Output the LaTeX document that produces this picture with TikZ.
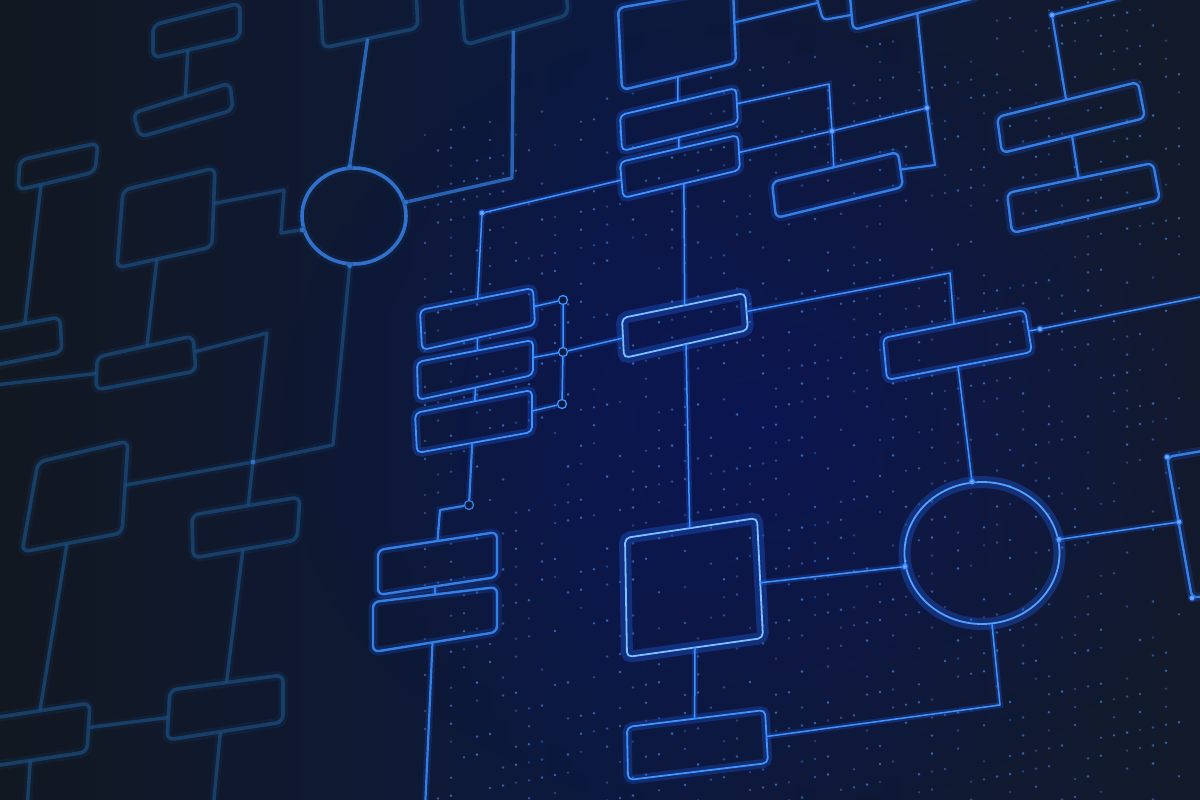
\documentclass[tikz,border=0pt]{standalone}
\usetikzlibrary{calc,shapes.geometric,fadings}
\definecolor{bgL}{HTML}{121821}
\definecolor{bgM}{HTML}{0C193F}
\definecolor{bgR}{HTML}{131A2B}
\definecolor{neon}{HTML}{4094FF}
\definecolor{neonglow}{HTML}{1F5FE6}
\definecolor{neonhot}{HTML}{7CC0FF}
\definecolor{midc}{HTML}{3580E6}
\definecolor{dimc}{HTML}{1B4E7E}
\definecolor{dimglow}{HTML}{163E68}
\definecolor{dotc}{HTML}{4A8FF0}
\tikzfading[name=softglow, inner color=transparent!55, outer color=transparent!100]
\tikzset{
  bright/.style={draw=neon, line width=1.8pt, rounded corners=5pt, line join=round,
    preaction={draw=neonglow, line width=9pt, draw opacity=0.3}},
  hot/.style={draw=neonhot, line width=1.8pt, rounded corners=5pt, line join=round,
    preaction={draw=neonglow, line width=12pt, draw opacity=0.35}},
  medium/.style={draw=midc, line width=2.4pt, rounded corners=6pt, line join=round,
    preaction={draw=neonglow, line width=9pt, draw opacity=0.22}},
  dim/.style={draw=dimc, line width=3.6pt, rounded corners=7pt, line join=round, draw opacity=0.7,
    preaction={draw=dimglow, line width=10pt, draw opacity=0.2}},
  brightln/.style={draw=neon, line width=1.5pt, line join=round,
    preaction={draw=neonglow, line width=6pt, draw opacity=0.28}},
  mediumln/.style={draw=midc, line width=2.2pt, line join=round,
    preaction={draw=neonglow, line width=7pt, draw opacity=0.2}},
  dimln/.style={draw=dimc, line width=3.4pt, line join=round, draw opacity=0.7,
    preaction={draw=dimglow, line width=9pt, draw opacity=0.18}},
  jdot/.style={fill=neonhot, draw=neonglow, draw opacity=0.4, line width=3pt},
  ddot/.style={fill=dimc!80!white, draw=dimglow, draw opacity=0.3, line width=3pt},
  ring/.style={circle, draw=neon, fill=bgM, line width=1.3pt, minimum size=9pt, inner sep=0pt}
}
\newcommand\qbox[6][bright]{%
  \coordinate (#2-tl) at (#3); \coordinate (#2-tr) at (#4);
  \coordinate (#2-br) at (#5); \coordinate (#2-bl) at (#6);
  \draw[#1] (#2-tl) -- (#2-tr) -- (#2-br) -- (#2-bl) -- cycle;}
\begin{document}
\begin{tikzpicture}[x=1pt,y=-1pt]
\useasboundingbox (0,0) rectangle (1200,800);
\clip (0,0) rectangle (1200,800);
% background
\shade[left color=bgL, right color=bgR, middle color=bgM] (0,0) rectangle (1200,800);
\fill[bgM!75!blue, path fading=softglow] (760,420) ellipse [x radius=480, y radius=400];
% dot matrix
\foreach \r in {0,...,45}{
  \foreach \c in {0,...,58}{
    \pgfmathtruncatemacro\k{mod(mod(\c*\c,97)*7+mod(\r*\r,89)*3+mod(\c*\r,83)*5+\r*11+\c,9)}
    \ifnum\k<4
      \pgfmathsetmacro\xx{425+13*\c}
      \pgfmathsetmacro\yy{135+18*\r-2.6*\c}
      \pgfmathsetmacro\op{0.35+0.1*mod(\c+\r,4)}
      \fill[dotc, opacity=\op] (\xx,\yy) circle (1.4);
    \fi
  }}

% ================= left, dim flowchart =================
\qbox[dim]{D1}{320,-10}{415,-28}{418,28}{323,48}
\qbox[dim]{D2}{461,-5}{565,-25}{568,15}{465,45}
\qbox[dim]{D3}{123,190}{215,168}{212,247}{117,268}
\qbox[dim]{D4}{-20,332}{60,317}{62,352}{-20,368}
\qbox[dim]{D5}{97,357}{193,336}{196,371}{96,390}
\qbox[dim]{D6}{38,462}{128,441}{122,533}{22,552}
\qbox[dim]{D7}{192,515}{300,497}{297,540}{193,558}
\qbox[dim]{D8}{153,25}{240,3}{240,38}{153,58}
\qbox[dim]{D9}{133,113}{230,83}{233,110}{140,137}
\qbox[dim]{D11}{20,160}{98,143}{95,172}{18,190}
\qbox[dim]{D12}{-20,720}{90,703}{87,752}{-20,768}
\qbox[dim]{D13}{170,690}{283,675}{283,722}{167,740}
\node[ellipse, dim, draw=midc, draw opacity=0.85, minimum width=104pt, minimum height=96pt, inner sep=0pt] (C1) at (354,216) {};

\coordinate (K4) at (512,178); \coordinate (K5) at (281,233); \coordinate (K6) at (284,190);
\coordinate (K7) at (333,445); \coordinate (J8) at (253,462); \coordinate (K8) at (267,333);
\coordinate (E3) at (425,810); \coordinate (E4) at (213,810); \coordinate (E5) at (27,810);
\coordinate (E6) at (-5,385);

\draw[dimln, draw=midc] (C1.95) -- ($(D1-bl)!0.47!(D1-br)$);
\draw[dimln, draw=midc] (C1.15) -- (K4) -- ($(D2-bl)!0.47!(D2-br)$);
\draw[dimln] (C1.195) -- (K5) -- (K6) -- ($(D3-tr)!0.45!(D3-br)$);
\draw[dimln] (C1.265) -- (K7) -- (J8) -- ($(D6-tr)!0.48!(D6-br)$);
\draw[dimln] ($(D3-bl)!0.42!(D3-br)$) -- ($(D5-tl)!0.52!(D5-tr)$);
\draw[dimln] ($(D5-tr)!0.45!(D5-br)$) -- (K8) -- (J8) -- ($(D7-tl)!0.52!(D7-tr)$);
\draw[dimln] ($(D6-bl)!0.45!(D6-br)$) -- ($(D12-tl)!0.545!(D12-tr)$);
\draw[dimln] ($(D7-bl)!0.48!(D7-br)$) -- ($(D13-tl)!0.5!(D13-tr)$);
\draw[dimln] ($(D12-tr)!0.5!(D12-br)$) -- ($(D13-tl)!0.55!(D13-bl)$);
\draw[dimln] ($(D13-bl)!0.46!(D13-br)$) -- (E4);
\draw[dimln] ($(D12-bl)!0.47!(D12-br)$) -- (E5);
\draw[dimln] ($(D11-bl)!0.3!(D11-br)$) -- ($(D4-tl)!0.56!(D4-tr)$);
\draw[dimln] (E6) -- ($(D5-tl)!0.5!(D5-bl)$);
\draw[dimln] ($(D8-bl)!0.4!(D8-br)$) -- ($(D9-tl)!0.54!(D9-tr)$);
\foreach \p in {C1.95,C1.15,C1.195,C1.265,J8} \fill[ddot, fill=midc] (\p) circle (2.5);

% ================= centre, bright flowchart =================
% top column
\qbox[medium]{T1}{618,8}{733,-12}{736,63}{622,90}
\qbox{T2}{620,115}{736,88}{738,123}{622,151}
\qbox{T3}{620,162}{738,135}{740,170}{623,198}
\qbox[medium]{TR1}{848,-25}{975,-55}{979,-3}{853,30}
\qbox[medium]{R3}{772,182}{898,152}{903,187}{776,218}
\qbox[medium]{R4}{997,117}{1138,82}{1145,118}{1002,153}
\qbox[medium]{R5}{1007,193}{1153,163}{1160,200}{1012,233}
% middle
\qbox{L1}{420,310}{533,288}{535,325}{422,350}
\qbox{L2}{417,362}{533,340}{533,375}{418,400}
\qbox{L3}{415,413}{532,390}{532,432}{417,453}
\qbox[hot]{M1}{622,318}{745,293}{748,330}{624,358}
\qbox{R6}{883,338}{1025,310}{1032,352}{887,380}
\qbox[hot]{C}{625,538}{757,518}{763,638}{627,657}
\qbox{B2}{627,727}{765,710}{768,763}{628,780}
\qbox[medium]{B1a}{378,550}{497,532}{497,577}{378,595}
\qbox[medium]{B1b}{373,602}{497,587}{497,632}{373,652}
\qbox[medium]{RB}{1167,457}{1220,448}{1230,592}{1192,598}
\node[ellipse, hot, draw=neon!70!neonhot, minimum width=155pt, minimum height=142pt, inner sep=0pt] (C2) at (982,553) {};

\node[ring] (O1) at (563,300) {};
\node[ring] (O2) at (563,352) {};
\node[ring] (O3) at (562,404) {};
\node[ring, draw=midc] (O4) at (469,505) {};

\coordinate (J1) at (482,213); \coordinate (J2) at (927,108); \coordinate (J3) at (935,165);
\coordinate (J4) at (832,131); \coordinate (K1) at (829,84);  \coordinate (X1a) at (817,3);
\coordinate (J9) at (1052,15); \coordinate (E1) at (1120,-2);
\coordinate (K2) at (440,510); \coordinate (J5) at (950,273); \coordinate (J6) at (1040,329);
\coordinate (E2) at (1210,295); \coordinate (J7) at (1179,522); \coordinate (K3) at (1000,705);

% top connectors
\draw[brightln] ($(T1-bl)!0.49!(T1-br)$) -- ($(T2-tl)!0.5!(T2-tr)$);
\draw[brightln] ($(T2-bl)!0.49!(T2-br)$) -- ($(T3-tl)!0.5!(T3-tr)$);
\draw[brightln] ($(T3-bl)!0.52!(T3-br)$) -- ($(M1-tl)!0.51!(M1-tr)$);
\draw[brightln] ($(T3-tl)!0.5!(T3-bl)$) -- (J1) -- ($(L1-tl)!0.51!(L1-tr)$);
\draw[mediumln] ($(T1-tr)!0.46!(T1-br)$) -- (X1a);
\draw[mediumln, rounded corners=4pt] (815,-8) -- (823,20) -- (851,15);
\draw[mediumln] ($(TR1-bl)!0.51!(TR1-br)$) -- (J2) -- (J3) -- ($(R3-tr)!0.5!(R3-br)$);
\draw[brightln] ($(T3-tr)!0.5!(T3-br)$) -- (J4) -- (J2);
\draw[brightln] ($(T2-tr)!0.45!(T2-br)$) -- (K1) -- (J4) -- ($(R3-tl)!0.49!(R3-tr)$);
\draw[mediumln] (E1) -- (J9) -- ($(R4-tl)!0.49!(R4-tr)$);
\draw[mediumln] ($(R4-bl)!0.49!(R4-br)$) -- ($(R5-tl)!0.49!(R5-tr)$);
% middle connectors
\draw[brightln] ($(L1-bl)!0.49!(L1-br)$) -- ($(L2-tl)!0.52!(L2-tr)$);
\draw[brightln] ($(L2-bl)!0.5!(L2-br)$) -- ($(L3-tl)!0.51!(L3-tr)$);
\draw[mediumln] ($(L3-bl)!0.48!(L3-br)$) -- (O4);
\draw[mediumln] (O4) -- (K2) -- ($(B1a-tl)!0.5!(B1a-tr)$);
\draw[brightln] ($(L1-tr)!0.5!(L1-br)$) -- (O1);
\draw[brightln] ($(L2-tr)!0.5!(L2-br)$) -- (O2);
\draw[brightln] ($(L3-tr)!0.5!(L3-br)$) -- (O3);
\draw[brightln] (O1) -- (O2) -- (O3);
\draw[brightln] (O2) -- ($(M1-tl)!0.5!(M1-bl)$);
\draw[brightln] ($(M1-bl)!0.5!(M1-br)$) -- ($(C-tl)!0.49!(C-tr)$);
\draw[brightln] ($(M1-tr)!0.5!(M1-br)$) -- (J5) -- ($(R6-tl)!0.5!(R6-tr)$);
\draw[brightln] ($(R6-tr)!0.5!(R6-br)$) -- (J6) -- (E2);
\draw[brightln] ($(R6-bl)!0.49!(R6-br)$) -- (C2.98);
\draw[brightln] (C2.190) -- ($(C-tr)!0.54!(C-br)$);
\draw[brightln] (C2.10) -- (J7);
\draw[brightln] (C2.-82) -- (K3) -- ($(B2-tr)!0.5!(B2-br)$);
\draw[brightln] ($(C-bl)!0.5!(C-br)$) -- ($(B2-tl)!0.49!(B2-tr)$);
\draw[mediumln] ($(B1a-bl)!0.48!(B1a-br)$) -- ($(B1b-tl)!0.5!(B1b-tr)$);
\draw[mediumln] ($(B1b-bl)!0.48!(B1b-br)$) -- (E3);

% junction dots
\foreach \p in {J1,J2,J4,J6,J7,J9,RB-tl,RB-bl,C2.98,C2.10,C2.190}
  \fill[jdot] (\p) circle (2.6);
\end{tikzpicture}
\end{document}
